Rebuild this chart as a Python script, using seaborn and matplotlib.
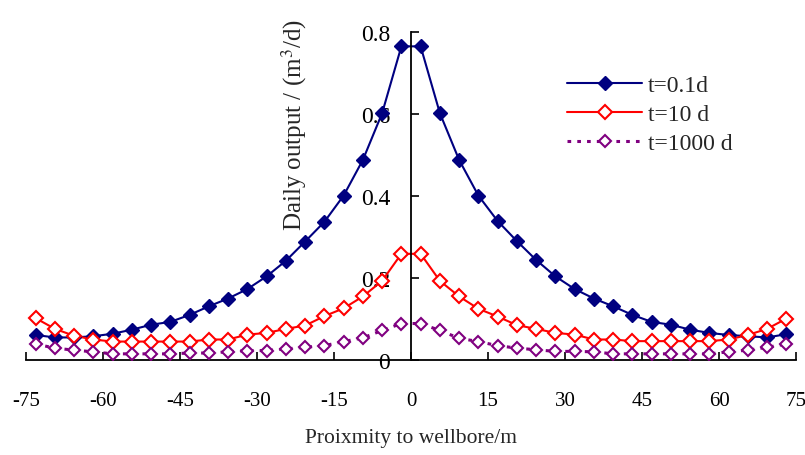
import matplotlib
matplotlib.use("Agg")
import matplotlib.pyplot as plt
import seaborn as sns
import pandas as pd
from matplotlib.lines import Line2D

# ---- data ----
x_pos = [-73.125, -69.375, -65.625, -61.875, -58.125, -54.375, -50.625, -46.875,
         -43.125, -39.375, -35.625, -31.875, -28.125, -24.375, -20.625, -16.875,
         -13.125, -9.375, -5.625, -1.875,
         1.875, 5.625, 9.375, 13.125, 16.875, 20.625, 24.375, 28.125, 31.875,
         35.625, 39.375, 43.125, 46.875, 50.625, 54.375, 58.125, 61.875, 65.625,
         69.375, 73.125]

t01 = [0.061, 0.055, 0.055, 0.058, 0.064, 0.074, 0.086, 0.093, 0.110, 0.131,
       0.150, 0.173, 0.204, 0.242, 0.289, 0.337, 0.401, 0.488, 0.602, 0.765,
       0.765, 0.602, 0.488, 0.401, 0.339, 0.290, 0.244, 0.204, 0.173, 0.150,
       0.131, 0.110, 0.093, 0.086, 0.074, 0.066, 0.061, 0.058, 0.055, 0.063]

t10 = [0.102, 0.076, 0.059, 0.050, 0.045, 0.045, 0.045, 0.045, 0.045, 0.050,
       0.050, 0.062, 0.066, 0.076, 0.084, 0.107, 0.126, 0.155, 0.193, 0.259,
       0.259, 0.193, 0.155, 0.125, 0.106, 0.085, 0.076, 0.066, 0.062, 0.050,
       0.050, 0.046, 0.046, 0.046, 0.046, 0.046, 0.050, 0.061, 0.076, 0.101]

t1000 = [0.039, 0.029, 0.024, 0.020, 0.015, 0.015, 0.015, 0.015, 0.017, 0.017,
         0.020, 0.023, 0.023, 0.027, 0.031, 0.035, 0.045, 0.054, 0.072, 0.089,
         0.089, 0.072, 0.053, 0.045, 0.035, 0.029, 0.025, 0.021, 0.021, 0.020,
         0.015, 0.015, 0.015, 0.015, 0.015, 0.015, 0.020, 0.024, 0.031, 0.039]

series_names = ["t=0.1d", "t=10 d", "t=1000 d"]
x_ticks = [-75, -60, -45, -30, -15, 0, 15, 30, 45, 60, 75]
y_ticks = [0, 0.2, 0.4, 0.6, 0.8]
y_tick_labels = ["0", "0.2", "0.4", "0.6", "0.8"]

# ---- styling ----
sns.set_style("ticks")
plt.rcParams["font.family"] = ["Liberation Serif", "DejaVu Serif"]
plt.rcParams["mathtext.fontset"] = "stix"
plt.rcParams["axes.unicode_minus"] = False

fig = plt.figure(figsize=(8.05, 4.56), dpi=100)
ax = fig.add_axes([26 / 805, 95 / 456, 770 / 805, 328 / 456])

df = pd.DataFrame({"x": x_pos * 3,
                   "y": t01 + t10 + t1000,
                   "series": [series_names[0]] * len(x_pos)
                   + [series_names[1]] * len(x_pos)
                   + [series_names[2]] * len(x_pos)})

colors = {"t=0.1d": "#000080", "t=10 d": "#FF0000", "t=1000 d": "#800080"}
styles = {
    "t=0.1d": dict(ls="-", lw=1.5, mfc="#000080", mec="#000080", ms=7, mew=1.0),
    "t=10 d": dict(ls="-", lw=1.5, mfc="white", mec="#FF0000", ms=7, mew=1.5),
    "t=1000 d": dict(ls=(0, (1.2, 2.0)), lw=2.2, mfc="white", mec="#800080", ms=6.5, mew=1.5),
}

for name in series_names:
    sub = df[df["series"] == name]
    st = styles[name]
    sns.lineplot(data=sub, x="x", y="y", ax=ax, color=colors[name],
                 linestyle=st["ls"], linewidth=st["lw"], estimator=None,
                 sort=False, legend=False)
    ax.plot(sub["x"], sub["y"], linestyle="none", marker="D",
            markersize=st["ms"], markerfacecolor=st["mfc"],
            markeredgecolor=st["mec"], markeredgewidth=st["mew"], zorder=3)

ax.set_xlim(-75, 75)
ax.set_ylim(0, 0.8)
ax.set_xticks(x_ticks)
ax.set_xticklabels([str(v) for v in x_ticks])
ax.set_yticks(y_ticks)
ax.set_yticklabels(y_tick_labels)

ax.spines["left"].set_position(("data", 0))
ax.spines["top"].set_visible(False)
ax.spines["right"].set_visible(False)
for s in ("left", "bottom"):
    ax.spines[s].set_linewidth(1.3)
    ax.spines[s].set_color("black")

ax.tick_params(axis="x", direction="in", length=6, width=1.2, pad=22,
               labelsize=15, colors="black")
ax.tick_params(axis="y", direction="in", length=6, width=1.2, pad=15,
               labelsize=17, colors="black")

ax.set_xlabel("Proixmity to wellbore/m", fontsize=15.5, labelpad=13)
ax.set_ylabel("Daily output / (m$^3$/d)", fontsize=18)
ax.yaxis.set_label_coords(0.367, 0.72)
ax.set_facecolor("white")

handles = []
for name in series_names:
    st = styles[name]
    handles.append(Line2D([], [], color=colors[name], linestyle=st["ls"],
                          linewidth=st["lw"], marker="D",
                          markersize=st["ms"], markerfacecolor=st["mfc"],
                          markeredgecolor=st["mec"], markeredgewidth=st["mew"]))
leg = ax.legend(handles, series_names, loc="upper left",
                bbox_to_anchor=(0.69, 0.9), frameon=False, fontsize=17,
                handlelength=3.2, handletextpad=0.25, labelspacing=0.33,
                borderaxespad=0)

fig.savefig("out.png", dpi=100, facecolor="white")
